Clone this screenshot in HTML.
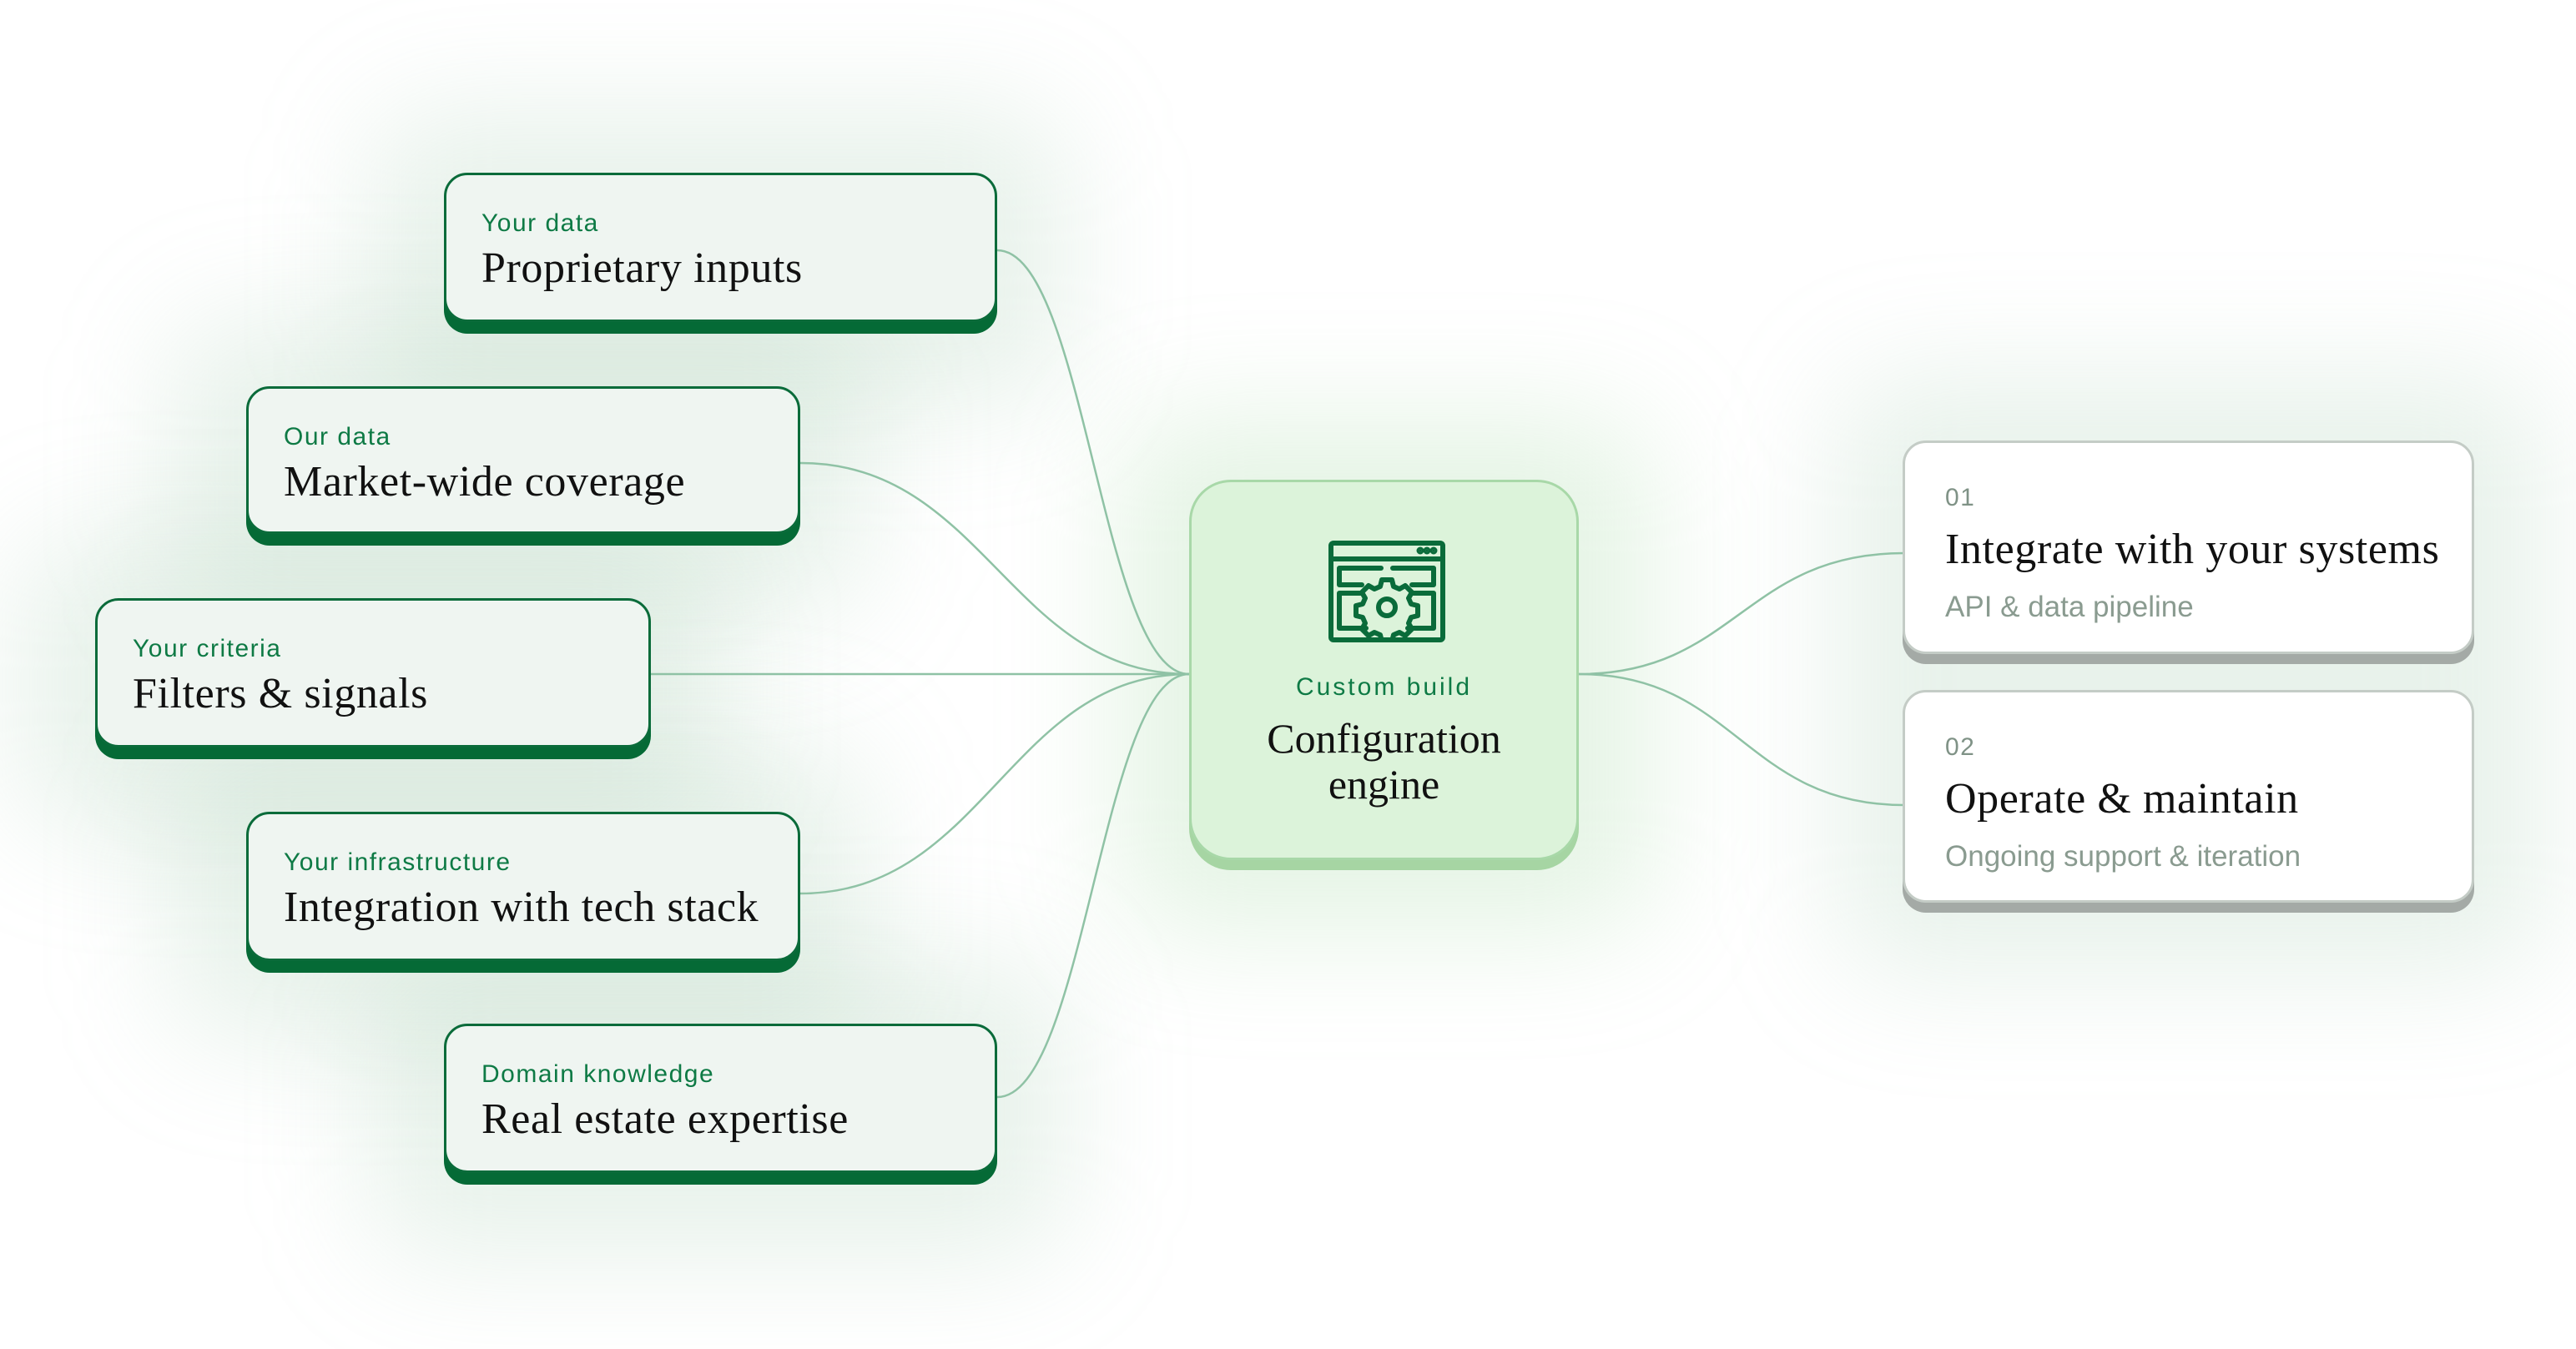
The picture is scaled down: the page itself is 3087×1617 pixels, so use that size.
<!DOCTYPE html>
<html><head><meta charset="utf-8"><style>
html,body{margin:0;padding:0}
body{width:3087px;height:1617px;position:relative;overflow:hidden;background:#fff;font-family:"Liberation Sans",sans-serif}
.glow{position:absolute;border-radius:80px;background:rgba(150,195,165,0.22);filter:blur(70px)}
.box{position:absolute;box-sizing:border-box;border:3px solid #0a6b3a;border-radius:28px;background:#eff5f1;box-shadow:0 14px 0 #056a36}
.box .k{position:absolute;left:42px;top:41px;font-size:30px;color:#0e7a45;letter-spacing:1.5px}
.box .t{position:absolute;left:42px;top:82px;font-family:"Liberation Serif",serif;font-size:52px;letter-spacing:0.6px;color:#111}
.rb{position:absolute;box-sizing:border-box;border:3px solid #c4ccc6;border-radius:28px;background:#fff;box-shadow:0 12px 0 #a4aaa6}
.rb .n{position:absolute;left:48px;top:49px;font-size:30px;color:#7f9286;letter-spacing:1.5px}
.rb .t{position:absolute;left:48px;top:98px;font-family:"Liberation Serif",serif;font-size:52px;letter-spacing:0.6px;color:#111}
.rb .s{position:absolute;left:48px;top:177px;font-size:35px;color:#8a9b90}
</style></head><body>
<div class="glow" style="left:440px;top:130px;width:840px;height:360px"></div>
<div class="glow" style="left:200px;top:380px;width:840px;height:360px"></div>
<div class="glow" style="left:20px;top:640px;width:840px;height:360px"></div>
<div class="glow" style="left:200px;top:890px;width:840px;height:360px"></div>
<div class="glow" style="left:440px;top:1150px;width:840px;height:360px"></div>
<div class="glow" style="left:1340px;top:500px;width:640px;height:620px;background:rgba(150,210,150,0.25)"></div>
<div class="glow" style="left:2200px;top:450px;width:850px;height:720px"></div>
<svg style="position:absolute;left:0;top:0" width="3087" height="1617">
<g fill="none" stroke="#8fc2a5" stroke-width="2.5">
<path d="M1195,300 C1300,300 1320,808 1425,808"/>
<path d="M959,555 C1180,555 1210,808 1425,808"/>
<path d="M780,808 L1425,808"/>
<path d="M959,1071 C1180,1071 1210,808 1425,808"/>
<path d="M1195,1315 C1300,1315 1320,808 1425,808"/>
<path d="M1892,808 C2080,808 2090,663 2282,663"/>
<path d="M1892,808 C2080,808 2090,965 2282,965"/>
</g>
</svg>
<div class="box" style="left:532px;top:207px;width:663px;height:179px"><div class="k">Your data</div><div class="t">Proprietary inputs</div></div>
<div class="box" style="left:295px;top:463px;width:664px;height:177px"><div class="k">Our data</div><div class="t">Market-wide coverage</div></div>
<div class="box" style="left:114px;top:717px;width:666px;height:179px"><div class="k">Your criteria</div><div class="t">Filters &amp; signals</div></div>
<div class="box" style="left:295px;top:973px;width:664px;height:179px"><div class="k">Your infrastructure</div><div class="t">Integration with tech stack</div></div>
<div class="box" style="left:532px;top:1227px;width:663px;height:179px"><div class="k">Domain knowledge</div><div class="t">Real estate expertise</div></div>
<div style="position:absolute;left:1425px;top:575px;width:467px;height:456px;box-sizing:border-box;border:3px solid #a8d8a8;border-radius:50px;background:#dcf3da;box-shadow:0 12px 0 #a6d5a3;text-align:center">
<svg style="position:absolute;left:164px;top:70px" width="140" height="122" viewBox="0 0 140 122" fill="none" stroke="#0a6b3a" stroke-width="6" stroke-linecap="round" stroke-linejoin="round">
<rect x="3" y="3" width="134" height="116" rx="3"/>
<line x1="3" y1="22" x2="137" y2="22"/>
<circle cx="110" cy="12" r="1.5" fill="#0a6b3a"/><circle cx="118" cy="12" r="1.5" fill="#0a6b3a"/><circle cx="126" cy="12" r="1.5" fill="#0a6b3a"/>
<path d="M40,53 H13 V33 H63 M77,33 H126 V53 H100"/>
<path d="M40,63 H13 V105 H45 M95,105 H126 V63 H100"/>
<path d="M64,47 h12 l2,8 7,3 7,-4 8,8 -4,7 3,7 8,2 v12 l-8,2 -3,7 4,7 -8,8 -7,-4 -7,3 -2,8 h-12 l-2,-8 -7,-3 -7,4 -8,-8 4,-7 -3,-7 -8,-2 v-12 l8,-2 3,-7 -4,-7 8,-8 7,4 7,-3z"/>
<circle cx="70" cy="80" r="10"/>
</svg>
<div style="position:absolute;left:0;right:0;top:229px;font-size:30px;color:#0e7a45;letter-spacing:3px">Custom build</div>
<div style="position:absolute;left:0;right:0;top:280px;font-family:'Liberation Serif',serif;font-size:50px;line-height:55px;color:#111">Configuration<br>engine</div>
</div>
<div class="rb" style="left:2280px;top:528px;width:685px;height:256px"><div class="n">01</div><div class="t">Integrate with your systems</div><div class="s">API &amp; data pipeline</div></div>
<div class="rb" style="left:2280px;top:827px;width:685px;height:255px"><div class="n">02</div><div class="t">Operate &amp; maintain</div><div class="s">Ongoing support &amp; iteration</div></div>
</body></html>
